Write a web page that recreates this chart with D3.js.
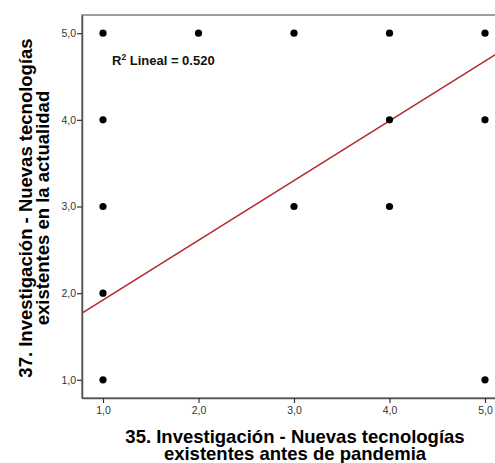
<!DOCTYPE html>
<html>
<head>
<meta charset="utf-8">
<script src="https://cdn.jsdelivr.net/npm/d3@7"></script>
<style>
  html, body { margin: 0; padding: 0; background: #fff; }
  svg { display: block; }
</style>
</head>
<body>
<svg id="chart" width="495" height="463"></svg>
<script>
// Observed response pairs (question 35 vs question 37)
const xValues = [1, 2, 3, 4, 5, 1, 4, 5, 1, 3, 4, 1, 1, 5];
const yValues = [5, 5, 5, 5, 5, 4, 4, 4, 3, 3, 3, 2, 1, 1];
// Linear fit shown on the chart
const fitIntercept = 1.232;
const fitSlope = 0.689;
const rSquared = "0.520";
const tickValues = [1, 2, 3, 4, 5];
const tickLabels = ["1,0", "2,0", "3,0", "4,0", "5,0"];
const xTitle = ["35. Investigación - Nuevas tecnologías", "existentes antes de pandemia"];
const yTitle = ["37. Investigación - Nuevas tecnologías", "existentes en la actualidad"];

const svg = d3.select("#chart");
const plot = { left: 82, top: 15, right: 506, bottom: 398 };

const x = d3.scaleLinear().domain([0.78, 5.22]).range([plot.left, plot.right]);
const y = d3.scaleLinear().domain([0.79, 5.21]).range([plot.bottom, plot.top]);

// frame
svg.append("rect")
  .attr("x", plot.left).attr("y", plot.top)
  .attr("width", plot.right - plot.left).attr("height", plot.bottom - plot.top)
  .attr("fill", "none").attr("stroke", "#7f7f7f").attr("stroke-width", 1.5);

// axes
const xAxis = d3.axisBottom(x).tickValues(tickValues)
  .tickFormat((d, i) => tickLabels[i]).tickSize(5).tickSizeOuter(0);
const yAxis = d3.axisLeft(y).tickValues(tickValues)
  .tickFormat((d, i) => tickLabels[i]).tickSize(5).tickSizeOuter(0);

const gx = svg.append("g").attr("transform", `translate(0,${plot.bottom})`).call(xAxis);
const gy = svg.append("g").attr("transform", `translate(${plot.left},0)`).call(yAxis);
[gx, gy].forEach(g => {
  g.select(".domain").attr("stroke", "#555").attr("stroke-width", 1.5);
  g.selectAll(".tick line").attr("stroke", "#333").attr("stroke-width", 1.2);
  g.selectAll(".tick text")
    .attr("font-family", "Liberation Sans, Arial, sans-serif")
    .attr("font-size", 10.5).attr("fill", "#333");
});
gx.selectAll(".tick text").attr("dy", "0.95em").attr("y", 6);
gy.selectAll(".tick text").attr("x", -6);

// regression line across the plot
const xd = x.domain();
svg.append("line")
  .attr("x1", x(xd[0])).attr("y1", y(fitIntercept + fitSlope * xd[0]))
  .attr("x2", x(xd[1])).attr("y2", y(fitIntercept + fitSlope * xd[1]))
  .attr("stroke", "#b22a30").attr("stroke-width", 1.6);

// points
svg.append("g").selectAll("circle")
  .data(xValues.map((v, i) => ({ x: v, y: yValues[i] })))
  .join("circle")
  .attr("cx", d => x(d.x)).attr("cy", d => y(d.y))
  .attr("r", 3.6).attr("fill", "#000");

// R² annotation
const ann = svg.append("text")
  .attr("x", 112).attr("y", 65)
  .attr("font-family", "Liberation Sans, Arial, sans-serif")
  .attr("font-weight", "bold").attr("font-size", 13).attr("fill", "#111");
ann.append("tspan").text("R");
ann.append("tspan").attr("font-size", 8.5).attr("dy", -5.5).text("2");
ann.append("tspan").attr("dy", 5.5).text(" Lineal = " + rSquared);

// axis titles
const titleFont = "Liberation Sans, Arial, sans-serif";
const xt = svg.append("text")
  .attr("text-anchor", "middle")
  .attr("font-family", titleFont).attr("font-weight", "bold")
  .attr("font-size", 18.5).attr("fill", "#000");
xt.append("tspan").attr("x", 295).attr("y", 443).text(xTitle[0]);
xt.append("tspan").attr("x", 295).attr("y", 460).text(xTitle[1]);

const yt = svg.append("text")
  .attr("text-anchor", "middle")
  .attr("transform", "translate(0,208) rotate(-90)")
  .attr("font-family", titleFont).attr("font-weight", "bold")
  .attr("font-size", 18.5).attr("fill", "#000");
yt.append("tspan").attr("x", 0).attr("y", 32).text(yTitle[0]);
yt.append("tspan").attr("x", 0).attr("y", 49).text(yTitle[1]);
</script>
</body>
</html>
